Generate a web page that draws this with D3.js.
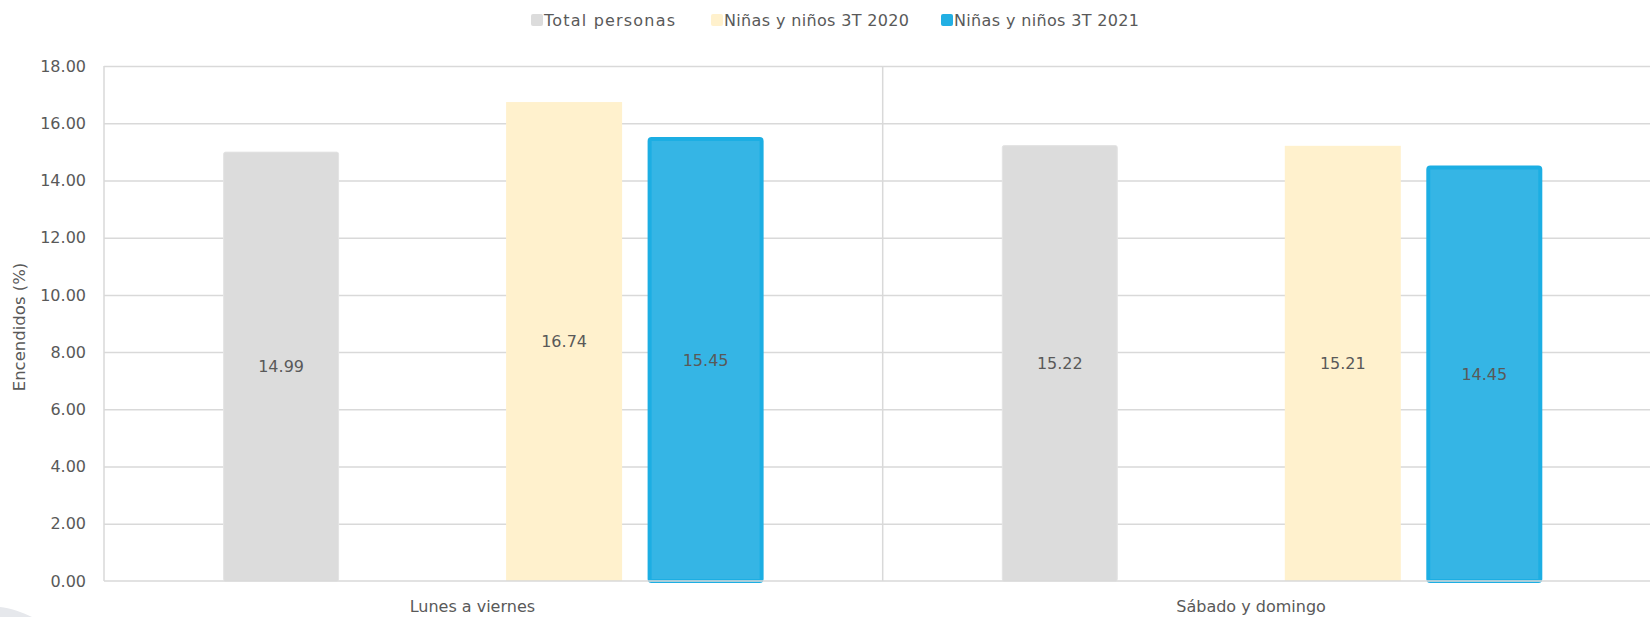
<!DOCTYPE html>
<html lang="es">
<head>
<meta charset="utf-8">
<title>Encendidos (%)</title>
<script src="https://cdn.jsdelivr.net/npm/d3@7/dist/d3.min.js"></script>
<style>
  html, body { margin: 0; padding: 0; background: #ffffff; }
  svg { display: block; }
  text { font-family: "DejaVu Sans", "Liberation Sans", sans-serif; fill: #595959; }
</style>
</head>
<body>
<svg id="chart" width="1650" height="617"></svg>
<script>
// Categories, series and tick values
const categories = ["Lunes a viernes", "Sábado y domingo"];
const seriesNames = ["Total personas", "Niñas y niños 3T 2020", "Niñas y niños 3T 2021"];
const totalPersonas = [14.99, 15.22];
const ninos2020 = [16.74, 15.21];
const ninos2021 = [15.45, 14.45];
const yTicks = [0, 2, 4, 6, 8, 10, 12, 14, 16, 18];
const yTitle = "Encendidos (%)";

// Series styling
const seriesStyle = {
  "Total personas":        { fill: "#dcdcdc", stroke: "#e4e4e4", sw: 1, key: "#dcdcdc" },
  "Niñas y niños 3T 2020": { fill: "#fff1cd", stroke: "none",    sw: 0, key: "#fff1cd" },
  "Niñas y niños 3T 2021": { fill: "#35b5e5", stroke: "#1caee3", sw: 4, key: "#22afe3" }
};

// Each cluster reserves four slots; the second one stays empty.
const slotKeys = [seriesNames[0], "", seriesNames[1], seriesNames[2]];

const svg = d3.select("#chart");
const margin = { left: 104, top: 66, bottom: 581 };
const plotRight = 1661.4;

const x0 = d3.scaleBand().domain(categories).range([margin.left, plotRight]).padding(0);
const x1 = d3.scaleBand().domain(slotKeys).range([0, x0.bandwidth()])
  .paddingInner(0.1802).paddingOuter(0.8417).align(0.5);
const y = d3.scaleLinear().domain([0, 18]).range([margin.bottom, margin.top]);

const seriesValues = [totalPersonas, ninos2020, ninos2021];
const rows = [];
categories.forEach((c, ci) => {
  seriesNames.forEach((s, si) => rows.push({ category: c, series: s, value: seriesValues[si][ci] }));
});

const gridColor = "#d9d9d9";

// Horizontal gridlines (behind the bars)
const yAxis = d3.axisLeft(y).tickValues(yTicks).tickFormat(d3.format(".2f"))
  .tickSize(-(plotRight - margin.left)).tickPadding(18);
const gy = svg.append("g").attr("transform", `translate(${margin.left},0)`).call(yAxis);
gy.select(".domain").remove();
gy.selectAll(".tick line").attr("stroke", gridColor).attr("stroke-width", 1.5)
  .filter(d => d === 0).remove();
gy.selectAll(".tick text").attr("font-size", 16).attr("fill", "#595959")
  .style("font-family", "'DejaVu Sans', sans-serif");

// Vertical category separators
const sepX = [x0.range()[0]].concat(categories.map(c => x0(c) + x0.bandwidth()));
svg.append("g").selectAll("line").data(sepX).join("line")
  .attr("x1", d => d).attr("x2", d => d)
  .attr("y1", y(18)).attr("y2", y(0))
  .attr("stroke", gridColor).attr("stroke-width", 1.5);

// Bars
svg.append("g").selectAll("rect").data(rows).join("rect")
  .attr("x", d => x0(d.category) + x1(d.series) + seriesStyle[d.series].sw / 2)
  .attr("width", d => x1.bandwidth() - seriesStyle[d.series].sw)
  .attr("y", d => y(d.value))
  .attr("height", d => y(0) - y(d.value))
  .attr("rx", d => d.series === seriesNames[1] ? 0 : 2)
  .attr("fill", d => seriesStyle[d.series].fill)
  .attr("stroke", d => seriesStyle[d.series].stroke)
  .attr("stroke-width", d => seriesStyle[d.series].sw);

// Zero line over the bars
svg.append("line")
  .attr("x1", margin.left).attr("x2", plotRight)
  .attr("y1", y(0)).attr("y2", y(0))
  .attr("stroke", gridColor).attr("stroke-width", 1.5);

// Value labels centred in each bar
svg.append("g").selectAll("text").data(rows).join("text")
  .attr("x", d => x0(d.category) + x1(d.series) + x1.bandwidth() / 2)
  .attr("y", d => (y(d.value) + y(0)) / 2)
  .attr("dy", "0.35em")
  .attr("text-anchor", "middle")
  .attr("font-size", 16)
  .text(d => d3.format(".2f")(d.value));

// Category axis labels (sit slightly left of the band centre)
const xAxis = d3.axisBottom(x0).tickSize(0).tickPadding(0);
const gx = svg.append("g").attr("transform", `translate(0,${y(0)})`).call(xAxis);
gx.select(".domain").remove();
gx.selectAll(".tick text").attr("font-size", 16).attr("fill", "#595959")
  .attr("x", -21).attr("y", 31).attr("dy", 0)
  .style("font-family", "'DejaVu Sans', sans-serif");

// Y axis title
svg.append("text")
  .attr("transform", `translate(25,327) rotate(-90)`)
  .attr("text-anchor", "middle")
  .attr("font-size", 16.5)
  .text(yTitle);

// Legend
const legendOffsets = [0, 180, 410];
const legend = svg.append("g").attr("transform", "translate(531,20)");
seriesNames.forEach((s, i) => {
  const item = legend.append("g").attr("transform", `translate(${legendOffsets[i]},0)`);
  item.append("rect").attr("x", 0).attr("y", -6).attr("width", 12).attr("height", 12)
    .attr("rx", 2).attr("fill", seriesStyle[s].key);
  item.append("text").attr("x", 13).attr("y", 0).attr("dy", "0.35em")
    .attr("font-size", 16).attr("letter-spacing", i === 0 ? 1.2 : 0.35).text(s);
});

// Soft grey arc in the lower-left corner
svg.append("path")
  .attr("d", "M0,607 C10,608 22,612 32,617 L0,617 Z")
  .attr("fill", "#e6e8ec");
</script>
</body>
</html>
